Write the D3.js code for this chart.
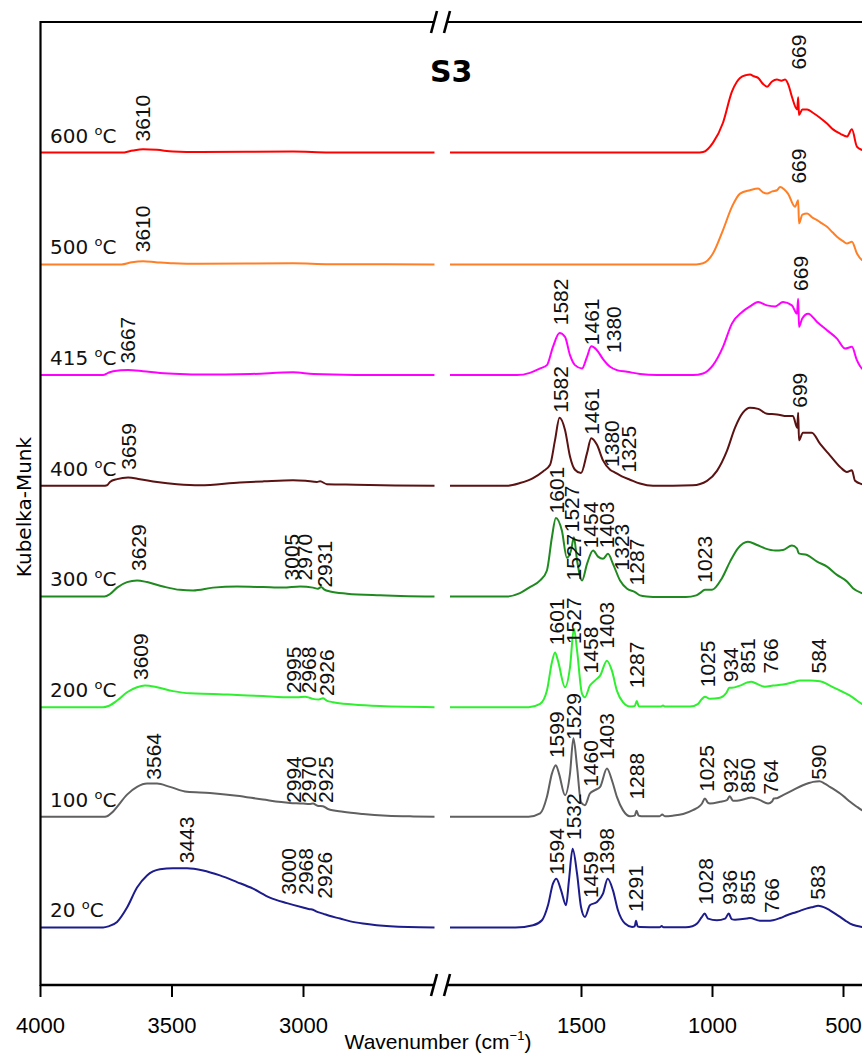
<!DOCTYPE html>
<html><head><meta charset="utf-8">
<script src="https://cdn.jsdelivr.net/npm/d3@7"></script>
<style>body{margin:0;background:#fff} svg{display:block;background:#fff}</style>
</head><body>
<svg id="c" width="862" height="1054"></svg>
<script>
// ---------- data ----------
const temps   = ["600", "500", "415", "400", "300", "200", "100", "20"];
const colors  = ["#ff0000", "#ff7f27", "#ff00ff", "#5a1212", "#1f8a1f", "#2ef02e", "#606060", "#1c1c8c"];
const offsets = [75.2, 65.1, 55.1, 45.1, 35.1, 25.1, 15.2, 5.2];
const tickValues = [4000, 3500, 3000, 1500, 1000, 500];

const s600 = [[4000,0],[3690,0],[3646,0.2],[3608,0.3],[3555,0.25],[3494,0.1],[3392,0.05],[3038,0.1],[2900,0.02],[2500,0],
  [2000,0],[1060,0],[1034,0.05],[996,0.9],[958,2.7],[924,5.5],[905,6.4],[893,6.75],[870,7.0],[855,7.05],[840,6.9],[824,6.75],[805,6.2],[790,5.95],[772,6.4],[752,6.6],[735,6.5],[721,6.6],[708,6.1],[695,5.05],[675,3.9],[671,5.0],[668,3.4],[655,3.9],[637,3.9],[615,3.6],[588,3.15],[560,2.6],[538,2.1],[510,1.7],[485,1.45],[466,2.1],[447,0.55],[428,0.25],[400,0.1]];
const s500 = [[4000,0],[3690,0],[3650,0.2],[3608,0.28],[3560,0.2],[3494,0.1],[3392,0.05],[3038,0.1],[2900,0.02],[2500,0],
  [2000,0],[1060,0],[1034,0.1],[996,1.0],[958,3.1],[924,5.2],[893,6.4],[855,6.7],[824,6.85],[805,6.5],[790,6.4],[770,6.6],[752,6.7],[740,7.0],[725,6.8],[710,6.4],[683,5.2],[671,5.8],[668,3.7],[655,4.5],[637,4.6],[615,4.2],[599,4.0],[580,3.7],[561,3.4],[540,2.9],[523,2.5],[500,2.1],[485,1.9],[466,2.05],[447,1.0],[428,0.4],[400,0.15]];
const s415 = [[4000,0],[3760,0],[3741,0.2],[3722,0.35],[3665,0.45],[3608,0.35],[3544,0.2],[3468,0.1],[3392,0.05],[3200,0.1],[3038,0.25],[2960,0.1],[2800,0.02],[2500,0],
  [2000,0],[1744,0],[1695,0.2],[1656,0.6],[1630,0.9],[1607,2.55],[1582,3.8],[1561,3.45],[1542,1.8],[1523,0.9],[1496,0.6],[1477,1.65],[1461,2.6],[1439,2.25],[1416,1.45],[1389,0.75],[1363,0.45],[1324,0.3],[1275,0.1],[1210,0],
  [1073,0],[1034,0.15],[996,0.9],[958,2.55],[924,4.65],[885,5.7],[855,6.2],[824,6.6],[790,6.3],[759,6.2],[729,6.6],[695,6.3],[676,5.55],[671,6.9],[668,4.35],[656,5.1],[633,5.55],[599,4.8],[561,4.05],[523,3.3],[492,2.4],[466,2.55],[447,1.35],[428,0.6],[400,0.3]];
const s400 = [[4000,0],[3760,0],[3745,0.05],[3734,0.35],[3707,0.6],[3665,0.75],[3620,0.6],[3555,0.35],[3479,0.15],[3392,0.05],[3240,0.3],[3150,0.4],[3038,0.5],[2990,0.45],[2947,0.35],[2935,0.4],[2909,0.15],[2800,0.1],[2650,0.03],[2500,0],
  [2000,0],[1783,0],[1733,0.25],[1683,0.7],[1645,1.3],[1618,1.9],[1599,4.15],[1582,6.15],[1561,5.05],[1542,2.65],[1523,1.45],[1500,1.15],[1477,2.95],[1461,4.3],[1439,3.7],[1416,2.3],[1389,1.45],[1370,1.2],[1344,0.85],[1313,0.55],[1275,0.2],[1225,0],
  [1073,0.05],[1019,0.45],[981,1.35],[943,3.15],[912,5.25],[882,6.6],[855,7.05],[824,6.95],[790,6.5],[752,6.45],[714,6.3],[691,6.3],[675,5.25],[671,6.6],[668,4.1],[653,4.8],[619,4.8],[588,3.8],[550,2.75],[511,1.7],[485,1.25],[466,1.4],[454,0.45],[428,0.15],[400,0.05]];
const s300 = [[4000,0],[3755,0],[3735,0.2],[3707,0.8],[3669,1.3],[3631,1.45],[3593,1.3],[3532,0.9],[3468,0.6],[3418,0.55],[3342,0.8],[3251,0.9],[3152,0.85],[3076,0.8],[3011,0.9],[2962,0.8],[2943,0.7],[2931,0.85],[2920,0.65],[2897,0.45],[2833,0.25],[2707,0.1],[2600,0.03],[2500,0],
  [2000,0],[1783,0],[1733,0.3],[1695,0.85],[1656,1.45],[1630,2.35],[1611,5.35],[1596,7.1],[1573,5.95],[1554,3.5],[1538,4.15],[1527,5.35],[1515,3.25],[1496,1.45],[1477,2.95],[1454,4.15],[1435,3.6],[1416,3.4],[1397,3.85],[1378,2.95],[1351,1.45],[1324,0.7],[1294,0.4],[1275,0.1],[1250,0],[1200,-0.05],[1100,-0.05],
  [1060,0.1],[1046,0.3],[1027,0.6],[1000,0.6],[962,1.65],[931,3.15],[901,4.35],[863,4.95],[828,4.65],[798,4.35],[759,4.15],[729,4.2],[695,4.6],[676,4.35],[669,3.9],[637,3.75],[599,3.15],[561,2.7],[523,1.95],[485,1.35],[462,0.75],[428,0.3],[400,0.1]];
const s200 = [[4000,0],[3760,0],[3740,0.1],[3707,0.6],[3669,1.35],[3631,1.8],[3601,1.95],[3555,1.8],[3494,1.45],[3430,1.25],[3342,1.2],[3251,1.1],[3152,1.0],[3076,0.9],[3023,0.9],[2992,0.95],[2975,0.85],[2962,0.75],[2940,0.7],[2924,0.8],[2910,0.6],[2886,0.45],[2810,0.25],[2707,0.1],[2600,0.03],[2500,0],
  [2000,0],[1700,0],[1656,0.3],[1630,1.5],[1611,4.05],[1599,4.95],[1588,4.2],[1561,1.8],[1542,3.6],[1527,7.1],[1515,5.1],[1496,1.2],[1485,0.9],[1466,1.95],[1447,2.4],[1427,2.85],[1401,4.2],[1382,3.3],[1363,1.5],[1340,0.45],[1313,0.05],[1295,0.1],[1287,0.55],[1280,0.1],[1270,0.05],[1195,0.05],[1187,0.15],[1180,0.05],
  [1084,0.05],[1053,0.3],[1040,0.7],[1027,0.95],[1008,0.75],[969,0.85],[945,1.3],[934,1.75],[924,1.75],[893,1.95],[863,2.25],[851,2.3],[828,2.1],[798,1.85],[767,1.95],[729,2.05],[691,2.25],[664,2.4],[626,2.4],[588,2.35],[550,1.95],[511,1.5],[473,1.05],[447,0.6],[428,0.3],[400,0.1]];
const s100 = [[4000,0],[3760,0],[3745,0.05],[3725,0.4],[3707,0.9],[3669,2.0],[3631,2.7],[3593,3.0],[3555,3.0],[3506,2.7],[3441,2.25],[3354,2.15],[3251,1.9],[3152,1.55],[3050,1.25],[3000,1.2],[2975,1.15],[2962,1.2],[2945,1.0],[2924,0.95],[2905,0.7],[2848,0.45],[2772,0.25],[2680,0.1],[2580,0.03],[2500,0],
  [2000,0],[1700,0],[1656,0.3],[1630,1.8],[1611,3.9],[1596,4.65],[1584,3.9],[1561,1.95],[1542,3.9],[1529,7.1],[1515,4.5],[1500,1.3],[1485,1.05],[1466,2.1],[1447,2.4],[1427,2.7],[1401,4.35],[1382,3.3],[1363,1.8],[1340,0.6],[1313,0.05],[1295,0.1],[1288,0.55],[1280,0.1],[1270,0.05],[1200,0.05],[1190,0.2],[1180,0.05],
  [1150,0.1],[1110,0.25],[1073,0.6],[1045,1.0],[1038,1.2],[1027,1.65],[1015,1.25],[1008,1.2],[969,1.35],[943,1.5],[932,1.85],[920,1.45],[912,1.45],[867,1.65],[850,1.75],[817,1.5],[786,1.2],[770,1.4],[764,1.65],[750,1.7],[729,1.95],[691,2.4],[653,2.85],[630,3.05],[614,3.15],[590,3.2],[570,3.0],[550,2.7],[530,2.4],[511,2.1],[490,1.7],[473,1.35],[447,0.9],[428,0.6],[400,0.3]];
const s20 = [[4000,0],[3760,0],[3740,0.1],[3707,0.5],[3669,1.8],[3631,3.6],[3593,4.7],[3544,5.25],[3494,5.35],[3441,5.35],[3380,5.15],[3316,4.7],[3251,4.1],[3190,3.5],[3126,2.7],[3061,2.2],[3000,1.8],[2975,1.65],[2962,1.6],[2950,1.45],[2924,1.25],[2900,1.05],[2859,0.8],[2820,0.55],[2772,0.35],[2720,0.2],[2669,0.1],[2600,0.03],[2500,0],
  [2000,0],[1750,0],[1683,0.2],[1649,0.65],[1626,2.0],[1607,3.95],[1594,4.4],[1576,3.35],[1557,2.0],[1546,4.25],[1532,7.1],[1515,4.85],[1500,1.85],[1485,0.95],[1466,2.0],[1439,2.3],[1416,3.05],[1398,4.4],[1378,3.35],[1359,1.55],[1332,0.35],[1305,0.05],[1295,0.1],[1290,0.6],[1284,0.1],[1275,0.05],[1200,0.02],[1192,0.12],[1185,0.02],
  [1100,0.02],[1075,0.1],[1057,0.35],[1040,0.9],[1028,1.25],[1015,0.8],[981,0.65],[950,0.8],[936,1.25],[925,0.75],[912,0.7],[867,0.8],[855,0.85],[817,0.6],[790,0.6],[767,0.65],[740,0.85],[714,1.1],[690,1.3],[664,1.5],[640,1.7],[614,1.85],[595,1.95],[581,1.9],[565,1.75],[550,1.55],[530,1.25],[511,0.95],[490,0.6],[473,0.35],[450,0.15],[428,0.05],[400,0]];
const series = [s600, s500, s415, s400, s300, s200, s100, s20];

// peak annotations: [label, position (cm-1), height above baseline]
const p600 = [["3610",3610,1.0],["669",669,7.5]];
const p500 = [["3610",3610,1.1],["669",669,7.3]];
const p415 = [["3667",3667,1.05],["1582",1576,4.5],["1461",1458,2.7],["1380",1374,2.0],["669",660,7.6]];
const p400 = [["3659",3662,1.45],["1582",1576,6.6],["1461",1458,4.6],["1380",1382,1.7],["1325",1317,1.2],["699",664,7.05]];
const p300 = [["3629",3624,2.3],["3005",3042,1.45],["2970",2992,1.45],["2931",2916,0.8],
  ["1601",1592,7.5],["1527",1534,5.8],["1454",1462,4.35],["1403",1401,4.35],["1323",1343,2.35],["1287",1286,1.0],["1527",1527,1.45],["1023",1027,1.25]];
const p200 = [["3609",3616,2.45],["2995",3034,1.25],["2968",2977,1.25],["2926",2909,1.0],
  ["1601",1592,5.6],["1527",1527,5.7],["1458",1462,3.05],["1403",1401,5.3],["1287",1286,1.7],["1025",1015,1.8],["934",927,2.25],["851",863,3.05],["766",775,3.05],["584",592,3.05]];
const p100 = [["3564",3567,3.35],["2994",3034,1.25],["2970",2977,1.25],["2925",2913,1.25],
  ["1599",1592,5.3],["1529",1527,6.95],["1460",1462,2.7],["1403",1401,5.15],["1288",1286,1.55],["1025",1019,2.25],["932",927,2.15],["850",863,2.15],["764",775,2.0],["590",592,3.35]];
const p20 = [["3443",3441,5.8],["3000",3053,2.95],["2968",2989,2.95],["2926",2916,2.6],
  ["1594",1592,4.75],["1532",1527,7.9],["1459",1462,2.65],["1398",1401,4.75],["1291",1290,1.4],["1028",1023,2.05],["936",931,2.05],["855",863,2.05],["766",771,1.3],["583",595,2.5]];
const peaks = [p600, p500, p415, p400, p300, p200, p100, p20];

// ---------- scales ----------
const svg = d3.select("#c");
const xLeft  = d3.scaleLinear().domain([4000, 2500]).range([40, 434.5]);
const xRight = d3.scaleLinear().domain([2000, 400]).range([450, 869.2]);
const xPos = wn => wn >= 2250 ? xLeft(wn) : xRight(wn);
const y = d3.scaleLinear().domain([0, 87]).range([985, 22]);

const line = d3.line().x(d => xPos(d[0])).y(d => d[1]).curve(d3.curveMonotoneX);

// ---------- curves ----------
series.forEach((s, i) => {
  const pts = s.map(d => [d[0], y(offsets[i] + d[1])]);
  const left = pts.filter(d => d[0] >= 2500);
  const right = pts.filter(d => d[0] <= 2000);
  [left, right].forEach(part => {
    svg.append("path").attr("d", line(part)).attr("fill", "none")
      .attr("stroke", colors[i]).attr("stroke-width", 2).attr("stroke-linejoin", "round");
  });
});

// ---------- axes / frame ----------
const axisFont = "'Liberation Sans', Arial, sans-serif";
[xLeft, xRight].forEach(sc => {
  const vals = tickValues.filter(v => v <= sc.domain()[0] && v >= sc.domain()[1]);
  const g = svg.append("g").attr("transform", "translate(0,985)")
    .call(d3.axisBottom(sc).tickValues(vals).tickSize(12).tickSizeOuter(0).tickPadding(20).tickFormat(d3.format("d")));
  g.select(".domain").remove();
  g.selectAll(".tick line").attr("stroke", "#000").attr("stroke-width", 2);
  g.selectAll(".tick text").attr("font-family", axisFont).attr("font-size", 22).attr("fill", "#000");
});

const frame = svg.append("g").attr("stroke", "#000").attr("stroke-width", 2.2).attr("fill", "none");
const brk = [434, 447];
[22, 985].forEach(yy => {
  frame.append("line").attr("x1", 40).attr("x2", brk[0]).attr("y1", yy).attr("y2", yy).attr("stroke-width", yy > 500 ? 2.6 : 2.2);
  frame.append("line").attr("x1", brk[1]).attr("x2", 870).attr("y1", yy).attr("y2", yy).attr("stroke-width", yy > 500 ? 2.6 : 2.2);
  brk.forEach(bx => frame.append("line").attr("x1", bx - 3).attr("y1", yy + 11).attr("x2", bx + 3).attr("y2", yy - 11).attr("stroke-width", 2.6));
});
frame.append("line").attr("x1", 40.5).attr("x2", 40.5).attr("y1", 21).attr("y2", 986);

// ---------- texts ----------
svg.append("text").attr("x", 438).attr("y", 1049).attr("text-anchor", "middle")
  .attr("font-family", axisFont).attr("font-size", 21)
  .call(t => { t.append("tspan").text("Wavenumber (cm");
               t.append("tspan").attr("font-size", 13).attr("dy", -9).text("\u22121");
               t.append("tspan").attr("dy", 9).text(")"); });

svg.append("text").attr("transform", "translate(31,507) rotate(-90)").attr("text-anchor", "middle")
  .attr("font-family", "'DejaVu Sans', Verdana, sans-serif").attr("font-size", 20).text("Kubelka-Munk");

svg.append("text").attr("x", 430).attr("y", 82).attr("font-family", "'DejaVu Sans', Verdana, sans-serif")
  .attr("font-weight", "bold").attr("font-size", 30).text("S3");

temps.forEach((t, i) => {
  const tx = svg.append("text").attr("x", 50).attr("y", y(offsets[i]) - 10)
    .attr("font-family", "'DejaVu Sans', Verdana, sans-serif").attr("font-size", 20).attr("fill", "#111");
  tx.append("tspan").text(t + " ");
  tx.append("tspan").attr("font-size", 13).attr("dy", -8).text("o");
  tx.append("tspan").attr("dy", 8).text("C");
});

peaks.forEach((pk, i) => {
  pk.forEach(p => {
    svg.append("text")
      .attr("transform", `translate(${xPos(p[1])},${y(offsets[i] + p[2])}) rotate(-90)`)
      .attr("dy", "0.35em").attr("font-family", axisFont).attr("font-size", 21).attr("fill", "#111")
      .text(p[0]);
  });
});
</script>
</body></html>
